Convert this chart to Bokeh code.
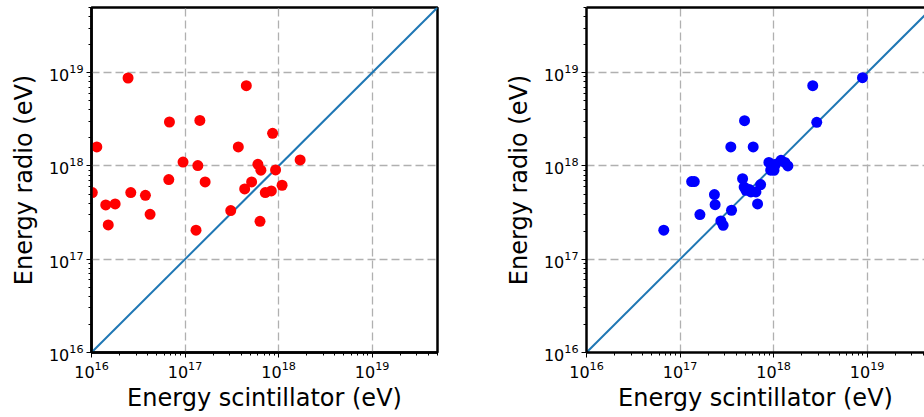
from bokeh.plotting import figure
from bokeh.layouts import row
from bokeh.models import FixedTicker, LogAxis, Range1d
from bokeh.embed import file_html
from bokeh.resources import INLINE

# Radio vs. scintillator energy, two reconstructions (eV)
red_scint = [2.46e16, 4.52e17, 6.81e16, 1.44e17, 1.14e16, 3.71e17, 8.63e17, 1.70e18,
             9.52e16, 1.37e17, 6.01e17, 6.47e17, 9.29e17, 6.70e16, 1.64e17, 5.15e17,
             4.34e17, 1.09e18, 1.02e16, 2.63e16, 3.77e16, 7.21e17, 8.36e17, 1.42e16,
             1.79e16, 4.23e16, 3.08e17, 1.51e16, 6.33e17, 1.31e17]
red_radio = [8.77e18, 7.26e18, 2.96e18, 3.08e18, 1.60e18, 1.60e18, 2.24e18, 1.16e18,
             1.10e18, 1.01e18, 1.04e18, 9.00e17, 9.06e17, 7.14e17, 6.74e17, 6.74e17,
             5.67e17, 6.21e17, 5.18e17, 5.18e17, 4.85e17, 5.18e17, 5.40e17, 3.82e17,
             3.92e17, 3.03e17, 3.32e17, 2.33e17, 2.55e17, 2.05e17]

blue_scint = [8.91e18, 2.62e18, 2.89e18, 4.89e17, 3.49e17, 6.05e17, 8.90e17, 1.01e18,
              1.20e18, 1.32e18, 1.42e18, 9.30e17, 1.05e18, 1.33e17, 1.42e17, 4.66e17,
              7.26e17, 5.06e17, 5.72e17, 6.47e17, 4.84e17, 2.33e17, 2.37e17, 6.74e17,
              1.63e17, 3.55e17, 2.73e17, 2.89e17, 6.70e16, 5.50e17]
blue_radio = [8.83e18, 7.26e18, 2.94e18, 3.06e18, 1.60e18, 1.60e18, 1.09e18, 8.98e17,
              1.15e18, 1.09e18, 1.00e18, 9.00e17, 1.04e18, 6.80e17, 6.80e17, 7.31e17,
              6.31e17, 5.48e17, 5.26e17, 5.26e17, 5.94e17, 4.93e17, 3.85e17, 3.92e17,
              3.01e17, 3.35e17, 2.57e17, 2.31e17, 2.05e17, 5.60e17]

major_ticks = [1e16, 1e17, 1e18, 1e19]
minor_ticks = [m * 10.0 ** e for e in range(16, 20) for m in range(2, 10)]
diagonal = [1e16, 5e19]

E_MIN, E_MAX = 1e16, 5e19
FONT = "DejaVu Sans"


def style_axis(ax):
    ax.ticker = FixedTicker(ticks=major_ticks, minor_ticks=minor_ticks)
    ax.axis_line_width = 2.5
    ax.axis_line_color = "black"
    ax.major_tick_in = 0
    ax.major_tick_out = 5
    ax.minor_tick_in = 0
    ax.minor_tick_out = 3
    ax.major_tick_line_color = "black"
    ax.minor_tick_line_color = "black"
    ax.major_label_text_font = FONT
    ax.major_label_text_font_size = "16px"
    ax.major_label_text_color = "black"
    ax.major_label_standoff = 3
    ax.axis_label_text_font = FONT
    ax.axis_label_text_font_size = "24px"
    ax.axis_label_text_font_style = "normal"
    ax.axis_label_text_color = "black"


def panel(xs, ys, color, x_end, frame_w, left_border, right_border, boxed):
    p = figure(x_axis_type="log", y_axis_type="log",
               x_range=Range1d(E_MIN, x_end), y_range=Range1d(E_MIN, E_MAX),
               frame_width=frame_w, frame_height=345,
               min_border_left=left_border, min_border_right=right_border,
               min_border_top=7, min_border_bottom=65,
               output_backend="svg", toolbar_location=None,
               background_fill_color="white", border_fill_color="white")
    for ax in (p.xaxis[0], p.yaxis[0]):
        style_axis(ax)
    p.xaxis.axis_label = "Energy scintillator (eV)"
    p.yaxis.axis_label = "Energy radio (eV)"
    p.xaxis.axis_label_standoff = 3
    p.yaxis.axis_label_standoff = 8

    for g in (p.xgrid, p.ygrid):
        g.grid_line_color = "#b0b0b0"
        g.grid_line_width = 1.3
        g.grid_line_dash = "8 4"

    if boxed:
        p.outline_line_color = "black"
        p.outline_line_width = 2.5
        p.outline_line_alpha = 1.0
    else:
        p.outline_line_color = None
        top = LogAxis(ticker=FixedTicker(ticks=[]), axis_line_width=2.5,
                      axis_line_color="black", major_label_text_font_size="0px",
                      major_tick_out=0, major_tick_in=0, minor_tick_out=0,
                      minor_tick_in=0, major_label_standoff=0)
        p.add_layout(top, "above")

    p.line(diagonal, diagonal, line_color="#1f77b4", line_width=2)
    p.scatter(xs, ys, size=11, fill_color=color, line_color=None)
    return p


left = panel(red_scint, red_radio, "#ff0000", E_MAX, 346, 91, 33, True)
right = panel(blue_scint, blue_radio, "#0000ff", 4.1e19, 338, 116, 0, False)

layout = row(left, right)
open("out.html", "w").write(file_html(layout, INLINE))
